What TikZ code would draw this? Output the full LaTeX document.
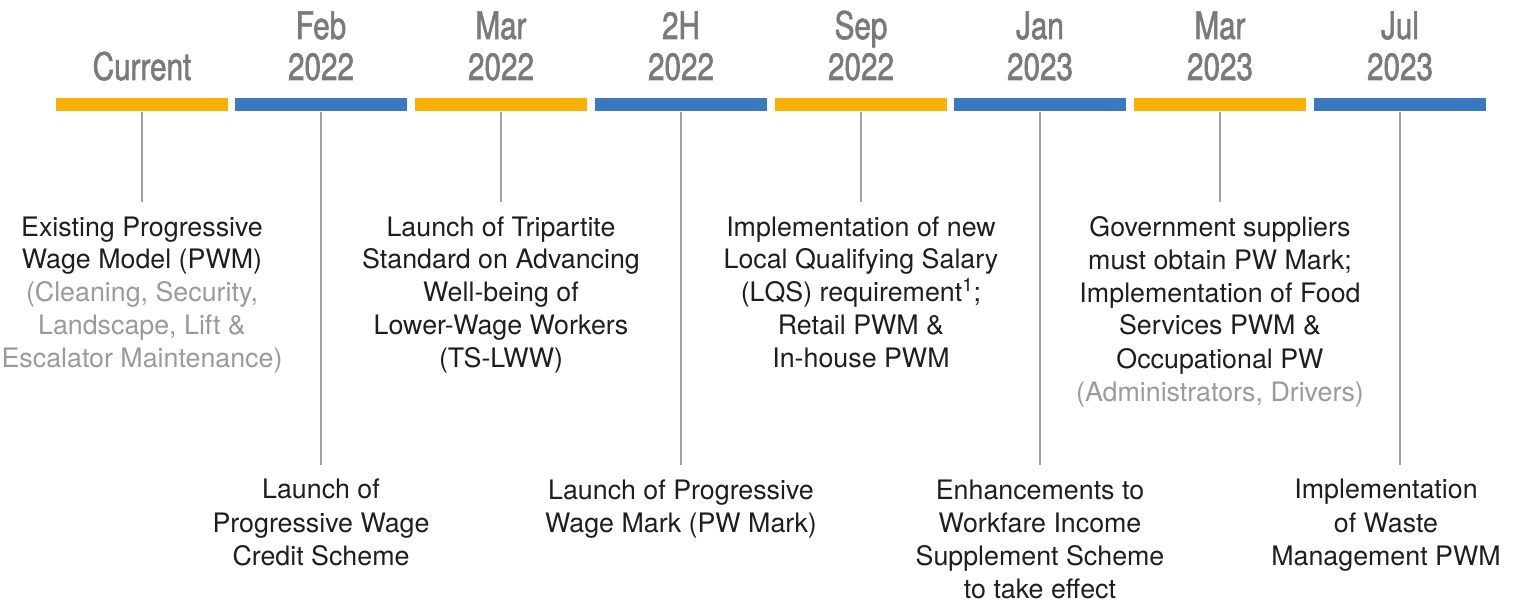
\documentclass[tikz,border=0pt]{standalone}
\usepackage{fontspec}
\setmainfont{TeX Gyre Heros}
\newfontfamily\headfont[FakeStretch=0.78,FakeBold=1.5]{TeX Gyre Heros}
\usepackage{tikz}
\usetikzlibrary{
  positioning % for relative positioning of the labels
}
\definecolor{barorange}{HTML}{F9B000}
\definecolor{barblue}{HTML}{3A78BF}
\definecolor{headgray}{HTML}{7A7A7A}
\definecolor{notegray}{HTML}{9A9A9A}
\definecolor{linegray}{HTML}{A0A0A0}
\definecolor{textblack}{HTML}{1E1E1E}
\tikzset{
  bar/.style={ % style for each period of the timeline
    rectangle,inner sep=0pt, % no padding
    minimum width=86pt,minimum height=6.5pt, % same size for every period
  },
  head/.style={ % style for the dates above the timeline (base = last line)
    align=center,anchor=base,inner sep=0pt,
    text=headgray,font=\headfont\fontsize{19pt}{20.5pt}\selectfont,
  },
  event/.style={ % style for the events below the timeline (base = last line)
    align=center,anchor=base,inner xsep=0pt,inner ysep=7pt,
    text=textblack,font=\fontsize{13.4pt}{16.5pt}\selectfont,
  },
  tick/.style={ % style for the connectors
    draw=linegray,line width=1pt,
  },
}
\newcommand{\note}[1]{{\color{notegray}#1}}
\begin{document}
\begin{tikzpicture}[x=0.5pt,y=-0.5pt]
  \useasboundingbox (0,0) rectangle (1517,604);
  % timeline
  \node[bar,fill=barorange] (b1) at (142,105) {};
  \node[bar,fill=barblue] (b2) at (321,105) {};
  \node[bar,fill=barorange] (b3) at (501,105) {};
  \node[bar,fill=barblue] (b4) at (681,105) {};
  \node[bar,fill=barorange] (b5) at (861,105) {};
  \node[bar,fill=barblue] (b6) at (1040,105) {};
  \node[bar,fill=barorange] (b7) at (1220,105) {};
  \node[bar,fill=barblue] (b8) at (1400,105) {};

  % dates
  \node[head] (h1) at (142,80) {Current};
  \node[head] (h2) at (321,80) {Feb\\2022};
  \node[head] (h3) at (501,80) {Mar\\2022};
  \node[head] (h4) at (681,80) {2H\\2022};
  \node[head] (h5) at (861,80) {Sep\\2022};
  \node[head] (h6) at (1040,80) {Jan\\2023};
  \node[head] (h7) at (1220,80) {Mar\\2023};
  \node[head] (h8) at (1400,80) {Jul\\2023};

  % events
  \node[event] (e1) at (142,368)
  {Existing Progressive\\Wage Model (PWM)\\\note{(Cleaning, Security,}\\\note{Landscape, Lift \&}\\\note{Escalator Maintenance)}};
  \node[event] (e2) at (321,565)
  {Launch of\\Progressive Wage\\Credit Scheme};
  \node[event] (e3) at (501,368)
  {Launch of Tripartite\\Standard on Advancing\\Well-being of\\Lower-Wage Workers\\(TS-LWW)};
  \node[event] (e4) at (681,532)
  {Launch of Progressive\\Wage Mark (PW Mark)};
  \node[event] (e5) at (861,368)
  {Implementation of new\\Local Qualifying Salary\\(LQS) requirement\textsuperscript{1};\\Retail PWM \&\\In-house PWM};
  \node[event] (e6) at (1040,598)
  {Enhancements to\\Workfare Income\\Supplement Scheme\\to take effect};
  \node[event] (e7) at (1220,401)
  {Government suppliers\\must obtain PW Mark;\\Implementation of Food\\Services PWM \&\\Occupational PW\\\note{(Administrators, Drivers)}};
  \node[event] (e8) at (1386,565)
  {Implementation\\of Waste\\Management PWM};

  \draw[tick] (b1) -- (e1);
  \draw[tick] (b2) -- (e2);
  \draw[tick] (b3) -- (e3);
  \draw[tick] (b4) -- (e4);
  \draw[tick] (b5) -- (e5);
  \draw[tick] (b6) -- (e6);
  \draw[tick] (b7) -- (e7);
  \draw[tick] (b8.south) -- (b8.south |- e8.north);
\end{tikzpicture}
\end{document}
